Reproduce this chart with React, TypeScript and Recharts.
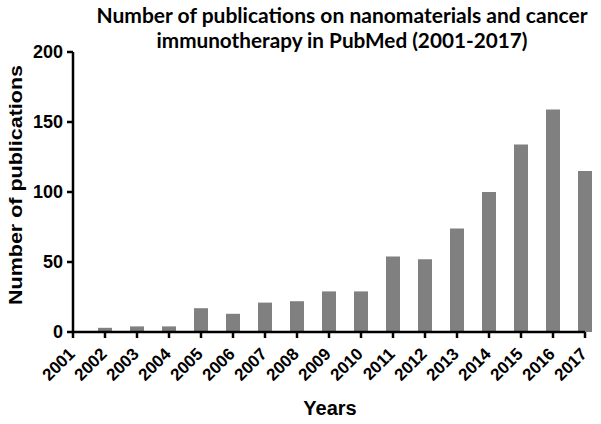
import { BarChart, Bar, XAxis, YAxis } from "recharts";

const years = [2001, 2002, 2003, 2004, 2005, 2006, 2007, 2008, 2009, 2010, 2011, 2012, 2013, 2014, 2015, 2016, 2017];
const publications = [0, 3, 4, 4, 17, 13, 21, 22, 29, 29, 54, 52, 74, 100, 134, 159, 115];
const yTicks = [0, 50, 100, 150, 200];

const titleLines = [
  "Number of publications on nanomaterials and cancer",
  "immunotherapy in PubMed (2001-2017)",
];

const axisFont = "Arial, 'Liberation Sans', Helvetica, sans-serif";

function YearTick({ x, y, payload }: any) {
  return (
    <g transform={`translate(${x + 3},${y + 17})`}>
      <text
        textAnchor="end"
        transform="rotate(-45)"
        fontFamily={axisFont}
        fontWeight="bold"
        fontSize={17}
        fill="#000"
      >
        {payload.value}
      </text>
    </g>
  );
}

export default function App() {
  const data = years.map((year, i) => ({ year, count: publications[i] }));

  return (
    <div style={{ position: "relative", width: 601, height: 424, background: "#fff" }}>
      <style>{`body { margin: 0; }`}</style>
      <BarChart width={601} height={424} data={data} margin={{ top: 52, right: 16, bottom: 0, left: 0 }}>
        <XAxis
          dataKey="year"
          type="number"
          domain={[2001, 2017]}
          ticks={years}
          interval={0}
          height={92}
          stroke="#000"
          strokeWidth={2.5}
          tickSize={6}
          tickMargin={0}
          tick={<YearTick />}
        />
        <YAxis
          domain={[0, 200]}
          ticks={yTicks}
          width={73}
          stroke="#000"
          strokeWidth={2.5}
          tickSize={6}
          tickMargin={4}
          tick={{ fill: "#000", fontSize: 18, fontWeight: "bold", fontFamily: axisFont }}
        />
        <Bar dataKey="count" fill="#808080" barSize={14} isAnimationActive={false} />
      </BarChart>
      <svg width={601} height={424} style={{ position: "absolute", left: 0, top: 0, pointerEvents: "none" }}>
        <text x={342} y={23} textAnchor="middle" fontFamily="Lato, 'Open Sans', sans-serif" fontWeight="bold" fontSize={20} textLength={491} lengthAdjust="spacingAndGlyphs">
          {titleLines[0]}
        </text>
        <text x={342} y={48} textAnchor="middle" fontFamily="Lato, 'Open Sans', sans-serif" fontWeight="bold" fontSize={20} textLength={371} lengthAdjust="spacingAndGlyphs">
          {titleLines[1]}
        </text>
        <text
          x={22}
          y={185}
          textAnchor="middle"
          transform="rotate(-90, 22, 185)"
          fontFamily={axisFont}
          fontWeight="bold"
          fontSize={19}
          textLength={240}
          lengthAdjust="spacingAndGlyphs"
        >
          Number of publications
        </text>
        <text x={330} y={415} textAnchor="middle" fontFamily={axisFont} fontWeight="bold" fontSize={20}>
          Years
        </text>
      </svg>
    </div>
  );
}
